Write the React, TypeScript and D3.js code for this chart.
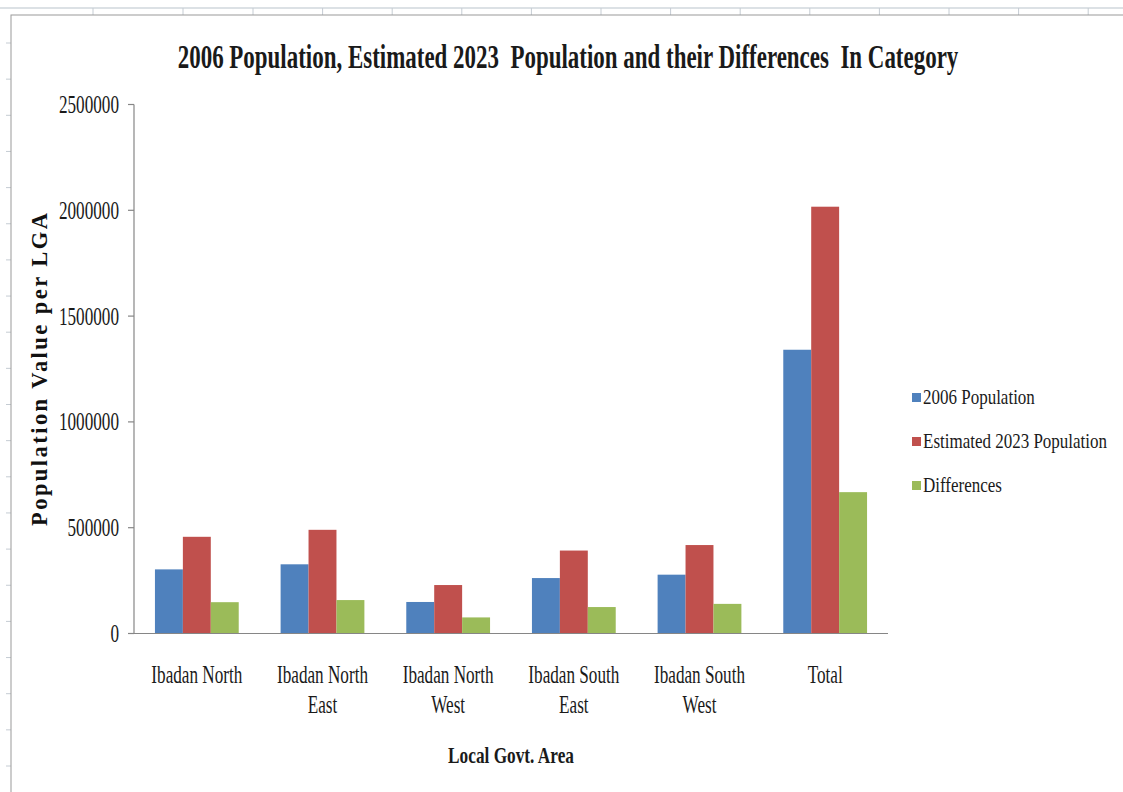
import React from "react";
import * as d3 from "d3";

// Local government areas (x categories) and the three series plotted per area
const categories: string[][] = [
  ["Ibadan North"],
  ["Ibadan North", "East"],
  ["Ibadan North", "West"],
  ["Ibadan South", "East"],
  ["Ibadan South", "West"],
  ["Total"],
];
const categoryKeys = ["IBN", "IBNE", "IBNW", "IBSE", "IBSW", "TOTAL"];

const seriesNames = ["2006 Population", "Estimated 2023 Population", "Differences"];
const population2006 = [303000, 327000, 149000, 262000, 278000, 1341000];
const population2023 = [457000, 490000, 229000, 392000, 418000, 2017000];
const differences = [148000, 158000, 76000, 125000, 140000, 668000];
const seriesValues = [population2006, population2023, differences];
const seriesColors = ["#4F81BD", "#C0504D", "#9BBB59"];

const yTicks = [0, 500000, 1000000, 1500000, 2000000, 2500000];

const W = 1123;
const H = 792;
const FONT = "Liberation Serif, Times New Roman, Times, serif";

// plot box
const X0 = 134;
const X1 = 888;
const Y0 = 633.5;
const Y1 = 104.5;

// narrow serif text, squeezed horizontally
function NText({
  x,
  y,
  size,
  sx,
  anchor = "start",
  bold = false,
  children,
}: {
  x: number;
  y: number;
  size: number;
  sx: number;
  anchor?: "start" | "middle" | "end";
  bold?: boolean;
  children: React.ReactNode;
}) {
  return (
    <text
      transform={`translate(${x},${y}) scale(${sx},1)`}
      style={{ fontFamily: FONT, whiteSpace: "pre" }}
      fontSize={size}
      fontWeight={bold ? "bold" : "normal"}
      textAnchor={anchor}
      fill="#1a1a1a"
    >
      {children}
    </text>
  );
}

export default function App() {
  const x = d3
    .scaleBand<string>()
    .domain(categoryKeys)
    .range([X0, X1])
    .paddingInner(1 / 3)
    .paddingOuter(1 / 6);
  const xs = d3
    .scaleBand<number>()
    .domain(d3.range(seriesNames.length))
    .range([0, x.bandwidth()]);
  const y = d3.scaleLinear().domain([0, 2500000]).range([Y0, Y1]);

  // spreadsheet grid behind the chart object
  const colLines = [93, 183].concat(d3.range(13).map((i) => 253 + i * 69.6));
  const rowLines = d3.range(21).map((i) => 43 + i * 36.15);

  return (
    <svg
      width={W}
      height={H}
      style={{ position: "absolute", left: 0, top: 0, background: "#fff" }}
    >
      <line x1={0} x2={W} y1={8} y2={8} stroke="#b9c3cb" strokeWidth={1} />
      {colLines.map((cx, i) => (
        <line key={i} x1={cx} x2={cx} y1={8} y2={15} stroke="#c5ccd3" strokeWidth={1} />
      ))}
      {rowLines.map((ry, i) => (
        <line key={i} x1={6} x2={11} y1={ry} y2={ry} stroke="#c5ccd3" strokeWidth={1} />
      ))}
      {/* chart area border */}
      <rect x={11} y={15} width={W + 20} height={H + 20} fill="#fff" stroke="#9a9a9a" strokeWidth={1} />

      {/* title */}
      <NText x={568} y={68} size={34} sx={0.675} anchor="middle" bold>
        {"2006 Population, Estimated 2023  Population and their Differences  In Category"}
      </NText>

      {/* bars */}
      {categoryKeys.map((key, ci) => (
        <g key={key} transform={`translate(${x(key)},0)`}>
          {seriesValues.map((vals, si) => (
            <rect
              key={si}
              x={xs(si)}
              y={y(vals[ci])}
              width={xs.bandwidth()}
              height={Y0 - y(vals[ci])}
              fill={seriesColors[si]}
            />
          ))}
        </g>
      ))}

      {/* axes */}
      <line x1={X0} x2={X0} y1={Y1} y2={Y0} stroke="#868686" strokeWidth={1.2} />
      <line x1={X0} x2={X1} y1={Y0} y2={Y0} stroke="#868686" strokeWidth={1.2} />
      {yTicks.map((t) => (
        <g key={t}>
          <line x1={X0 - 6} x2={X0} y1={y(t)} y2={y(t)} stroke="#868686" strokeWidth={1.2} />
          <NText x={119} y={y(t) + 8.5} size={26} sx={0.66} anchor="end">
            {String(t)}
          </NText>
        </g>
      ))}

      {/* category labels */}
      {categoryKeys.map((key, ci) => {
        const cx = (x(key) as number) + x.bandwidth() / 2;
        return categories[ci].map((line, li) => (
          <NText key={key + li} x={cx} y={683 + li * 30} size={26} sx={0.66} anchor="middle">
            {line}
          </NText>
        ));
      })}

      {/* axis titles */}
      <NText x={511} y={763} size={24} sx={0.72} anchor="middle" bold>
        Local Govt. Area
      </NText>
      <text
        transform={`translate(46.5,${(213 + 526) / 2}) rotate(-90)`}
        textAnchor="middle"
        style={{ fontFamily: FONT }}
        fontSize={22.5}
        fontWeight="bold"
        textLength={313}
        lengthAdjust="spacing"
        fill="#111"
      >
        Population Value per LGA
      </text>

      {/* legend */}
      {seriesNames.map((name, i) => {
        const ly = 393 + i * 44;
        return (
          <g key={name}>
            <rect x={912} y={ly} width={9} height={9} fill={seriesColors[i]} />
            <NText x={923} y={ly + 10.5} size={20} sx={0.85}>
              {name}
            </NText>
          </g>
        );
      })}
    </svg>
  );
}
